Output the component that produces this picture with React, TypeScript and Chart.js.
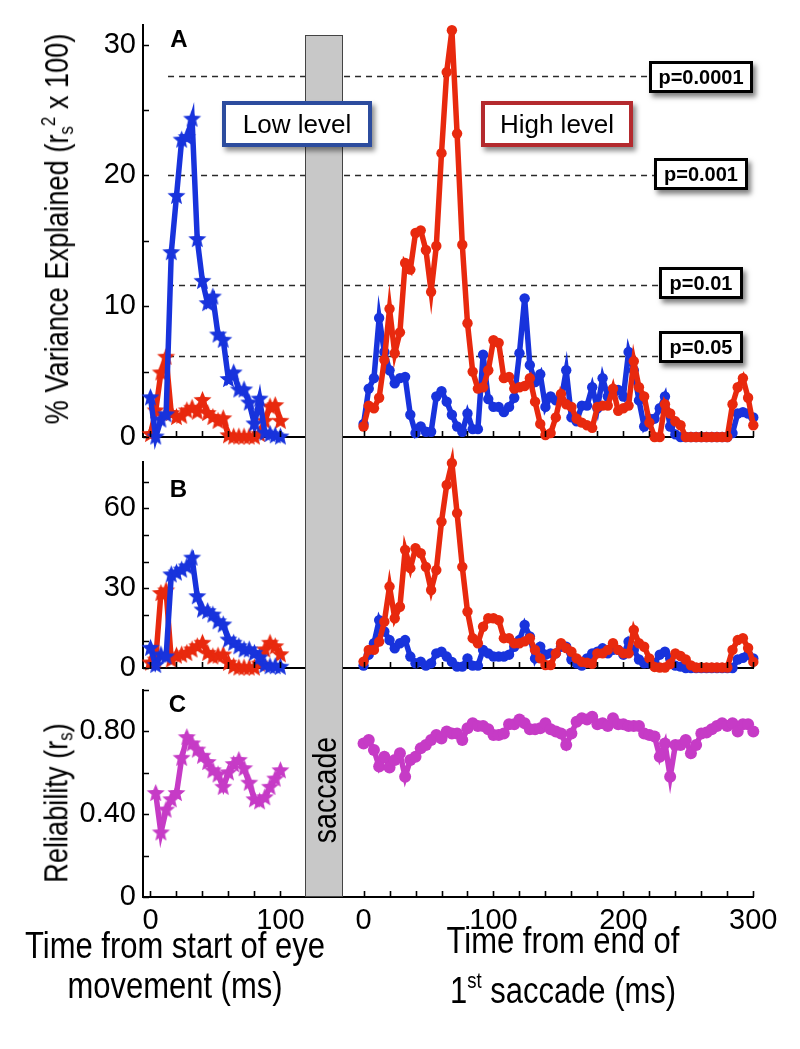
import { useEffect, useRef } from 'react';
import { Chart, registerables } from 'chart.js';
Chart.register(...registerables);

// ---------------- DATA ----------------
const LEFT_MS = [0, 4, 8, 12, 16, 20, 24, 28, 32, 36, 40, 44, 48, 52, 56, 60, 64, 68, 72, 76, 80, 84, 88, 92, 96, 100];
const RIGHT_MS = [0, 4, 8, 12, 16, 20, 24, 28, 32, 36, 40, 44, 48, 52, 56, 60, 64, 68, 72, 76, 80, 84, 88, 92, 96, 100,
  104, 108, 112, 116, 120, 124, 128, 132, 136, 140, 144, 148, 152, 156, 160, 164, 168, 172, 176, 180, 184, 188, 192, 196, 200,
  204, 208, 212, 216, 220, 224, 228, 232, 236, 240, 244, 248, 252, 256, 260, 264, 268, 272, 276, 280, 284, 288, 292, 296, 300];

// Panel A (% variance explained)
const A_LOW_LEFT = [3.0, 0.0, 1.3, 1.7, 14.1, 18.4, 22.7, 22.9, 24.3, 15.1, 11.9, 10.2, 10.7, 7.8, 7.4, 4.4, 4.9, 3.6, 3.6, 2.6, 1.0, 2.9, 0.3, 0.2, 0.1, 0.0];
const A_HIGH_LEFT = [0.2, 2.0, 4.9, 6.1, 1.8, 1.5, 1.6, 2.0, 2.2, 1.9, 2.8, 1.8, 1.5, 1.2, 1.4, 0.1, 0, 0, 0, 0, 0, 0.2, 1.2, 2.3, 2.4, 1.2];
const A_LOW_RIGHT = [1.0, 3.7, 4.5, 9.1, 6.5, 5.1, 4.1, 4.5, 4.6, 1.7, 0.3, 0.8, 0.4, 0.4, 3.1, 3.5, 2.7, 1.7, 0.8, 0.4,
  1.8, 0.6, 0.6, 6.3, 2.9, 2.3, 2.3, 1.9, 2.3, 3.0, 6.4, 10.6, 5.5, 4.2, 4.8, 2.3, 3.1, 2.8, 2.8, 5.1,
  1.5, 1.2, 2.4, 2.4, 3.8, 2.2, 4.5, 3.1, 3.3, 3.6, 3.1, 6.5, 5.1, 2.8, 0.8, 1.4, 1.4, 2.2, 3.1, 0.8,
  0.2, 0, 0, 0, 0, 0, 0, 0, 0, 0, 0, 0.3, 1.8, 1.9, 1.8, 1.5];
const A_HIGH_RIGHT = [0.8, 2.4, 2.2, 3.0, 5.9, 9.8, 6.4, 8.0, 13.3, 12.8, 15.6, 15.8, 14.3, 11.1, 14.6, 21.7, 27.9, 31.1, 23.2, 14.7,
  8.7, 5.0, 3.7, 3.8, 5.1, 7.4, 7.2, 4.5, 4.6, 3.7, 3.8, 3.9, 4.5, 2.7, 1.0, 0.15, 0.3, 1.5, 3.3, 2.5,
  2.3, 1.4, 1.1, 0.9, 0.7, 2.3, 2.4, 2.4, 3.7, 2.0, 2.2, 2.4, 5.8, 3.8, 3.1, 1.1, 0, 0, 2.5, 1.8,
  1.2, 0.9, 0, 0, 0, 0, 0, 0, 0, 0, 0, 2.5, 3.8, 4.5, 3.0, 0.9];

// Panel B
const B_LOW_LEFT = [7.4, 1.0, 4.9, 4.2, 35, 35.7, 36.8, 38, 41.3, 26.8, 21.8, 21.2, 19.9, 17.4, 16.2, 10.5, 9.3, 8.0, 6.8, 6.8, 5.5, 3.8, 1.0, 0.5, 0.5, 0.3];
const B_HIGH_LEFT = [1.9, 3.0, 28, 29, 3.0, 4.5, 4.9, 5.5, 6.8, 8.0, 9.3, 5.5, 4.2, 4.5, 4.9, 1.8, 0.5, 0, 0, 0, 0, 1.5, 6.8, 9.3, 8.0, 5.0];
const B_LOW_RIGHT = [0.9, 5.0, 9.3, 18, 13.7, 10.5, 7.4, 9.3, 10.5, 4.3, 1.8, 2.4, 0.9, 1.8, 5.5, 6.1, 4.3, 2.3, 0.5, 0.5,
  3.6, 0.9, 0.9, 6.8, 5.5, 4.3, 4.3, 4.3, 5.0, 8.0, 10.5, 16.2, 11.9, 3.6, 8.0, 5.0, 5.5, 5.5, 8.0, 8.0,
  3.2, 1.8, 0.9, 3.6, 5.5, 6.1, 7.4, 5.5, 6.8, 6.8, 5.0, 9.9, 6.8, 3.2, 1.8, 1.8, 1.8, 5.0, 6.1, 3.6,
  0.9, 0.5, 0, 0, 0, 0, 0, 0, 0, 0, 0, 0, 3.2, 3.8, 5.0, 3.6];
const B_HIGH_RIGHT = [2.4, 6.8, 6.8, 9.9, 17.4, 30.6, 18.7, 23, 44.4, 37.5, 45, 43.1, 38, 29.3, 36.8, 55, 68.8, 77, 58.2, 38,
  21.2, 11.2, 9.3, 15.5, 18.7, 18.7, 18, 11.2, 11.2, 9.3, 9.3, 10, 11.2, 6.8, 3.6, 1.1, 1.1, 5.5, 9.3, 7.5,
  6.1, 3.6, 2.3, 2.0, 1.6, 5.5, 5.5, 6.8, 9.3, 6.8, 5.5, 5.5, 14.3, 9.3, 8.0, 3.6, 0.4, 0.2, 0.2, 1.5,
  5.5, 4.5, 3.2, 1.0, 0.2, 0.2, 0.2, 0.2, 0.2, 0.2, 0.2, 6.8, 10.5, 11.2, 7.5, 2.3];

// Panel C (reliability)
const C_LEFT = [null, 0.50, 0.31, 0.42, 0.47, 0.50, 0.67, 0.77, 0.74, 0.71, 0.68, 0.65, 0.61, 0.59, 0.53, 0.60, 0.64, 0.66, 0.62, 0.55, 0.47, 0.46, 0.48, 0.53, 0.57, 0.61];
const C_RIGHT = [0.742, 0.758, 0.71, 0.63, 0.678, 0.626, 0.662, 0.694, 0.581, 0.662,
  0.678, 0.718, 0.734, 0.758, 0.783, 0.766, 0.799, 0.79, 0.79, 0.758,
  0.815, 0.839, 0.826, 0.826, 0.81, 0.783, 0.783, 0.79, 0.834, 0.834,
  0.858, 0.839, 0.81, 0.81, 0.815, 0.839, 0.81, 0.8, 0.79, 0.734,
  0.79, 0.847, 0.863, 0.858, 0.871, 0.834, 0.839, 0.826, 0.863, 0.834,
  0.834, 0.826, 0.826, 0.826, 0.79, 0.783, 0.775, 0.678, 0.742, 0.581,
  0.734, 0.734, 0.758, 0.694, 0.734, 0.79, 0.795, 0.81, 0.826, 0.839,
  0.826, 0.839, 0.8, 0.834, 0.834, 0.8];

// significance thresholds (panel A)
const P_LABELS = ['p=0.0001', 'p=0.001', 'p=0.01', 'p=0.05'];
const P_VALUES = [27.6, 20.0, 11.6, 6.2];
const P_LINE_START_MS = 13.5;            // on the left time axis
const P_LINE_END_MS = [219.7, 223.6, 227.4, 227.4]; // on the right time axis

// tick definitions
const X_TICKS_LEFT = [0, 20, 40, 60, 80, 100];
const X_TICKS_RIGHT = [0, 20, 40, 60, 80, 100, 120, 140, 160, 180, 200, 220, 240, 260, 280, 300];
const X_LABELS_LEFT = [0, 100];
const X_LABELS_RIGHT = [0, 100, 200, 300];
const Y_TICKS_A = [0, 5, 10, 15, 20, 25, 30];
const Y_LABELS_A = [0, 10, 20, 30];
const Y_TICKS_B = [0, 10, 20, 30, 40, 50, 60, 70];
const Y_LABELS_B = [0, 30, 60];
const Y_TICKS_C = [0, 0.2, 0.4, 0.6, 0.8, 1.0];
const Y_LABELS_C: [number, string][] = [[0, '0'], [0.4, '0.40'], [0.8, '0.80']];

// ---------------- STYLE / LAYOUT ----------------
const BLUE = '#1833dc';
const RED = '#e8290e';
const MAGENTA = '#c63bc6';
const SANS = '"Liberation Sans", Arial, Helvetica, sans-serif';
const RIGHT_OFFSET = 164;   // right time axis placed after the saccade gap
const X_MIN = -5.77;
const X_MAX = 464;
const AXIS_LEFT_PX = 143;
const AXIS_RIGHT_PX = 753.3;
const W = 800, H = 1049;

function makeStar(color: string, outer: number, inner: number) {
  const size = Math.ceil(outer * 2 + 2);
  const c = document.createElement('canvas');
  c.width = size; c.height = size;
  const ctx = c.getContext('2d')!;
  ctx.fillStyle = color;
  ctx.beginPath();
  for (let i = 0; i < 10; i++) {
    const r = i % 2 === 0 ? outer : inner;
    const a = -Math.PI / 2 + (i * Math.PI) / 5;
    const x = size / 2 + r * Math.cos(a);
    const y = size / 2 + r * Math.sin(a);
    if (i === 0) ctx.moveTo(x, y); else ctx.lineTo(x, y);
  }
  ctx.closePath();
  ctx.fill();
  return c;
}

function series(xs: number[], ys: (number | null)[], offset: number, color: string, pointStyle: any, radius: number, lw: number) {
  return {
    data: xs.map((x, i) => ({ x: x + offset, y: ys[i] })),
    borderColor: color,
    backgroundColor: color,
    borderWidth: lw,
    borderJoinStyle: 'miter' as const,
    pointStyle,
    pointRadius: radius,
    pointBorderWidth: 0,
    pointBackgroundColor: color,
    tension: 0,
    clip: false as const,
  };
}

const near = (a: number, b: number) => Math.abs(a - b) < 1e-6;

const axisDecor = {
  id: 'axisDecor',
  beforeDatasetsDraw(chart: any, _args: any, opts: any) {
    if (!opts.thresholds) return;
    const { ctx, scales: { x, y } } = chart;
    ctx.save();
    ctx.strokeStyle = '#2a2a2a';
    ctx.lineWidth = 1.5;
    ctx.setLineDash([6, 5]);
    opts.thresholds.forEach((v: number, i: number) => {
      const py = Math.round(y.getPixelForValue(v)) + 0.5;
      ctx.beginPath();
      ctx.moveTo(x.getPixelForValue(P_LINE_START_MS), py);
      ctx.lineTo(x.getPixelForValue(P_LINE_END_MS[i] + RIGHT_OFFSET), py);
      ctx.stroke();
    });
    ctx.restore();
  },
  afterDraw(chart: any) {
    const { ctx, chartArea, scales: { x, y } } = chart;
    ctx.save();
    ctx.strokeStyle = '#000';
    ctx.lineWidth = 1.6;
    ctx.beginPath();
    x.ticks.forEach((t: any) => {
      const px = Math.round(x.getPixelForValue(t.value)) + 0.5;
      ctx.moveTo(px, chartArea.bottom);
      ctx.lineTo(px, chartArea.bottom - 6);
    });
    y.ticks.forEach((t: any) => {
      const py = Math.round(y.getPixelForValue(t.value)) + 0.5;
      ctx.moveTo(chartArea.left, py);
      ctx.lineTo(chartArea.left + 6, py);
    });
    ctx.stroke();
    ctx.restore();
  },
};

interface PanelCfg {
  top: number; bottom: number; xh: number; ymax: number;
  yTicks: number[]; yLabel: (v: number) => string; showX: boolean;
  datasets: any[]; thresholds?: number[];
}

function makeChart(canvas: HTMLCanvasElement, cfg: PanelCfg) {
  const xTicks = [...X_TICKS_LEFT, ...X_TICKS_RIGHT.map(v => v + RIGHT_OFFSET)];
  return new Chart(canvas, {
    type: 'line',
    data: { datasets: cfg.datasets },
    plugins: [axisDecor],
    options: {
      responsive: false,
      animation: false,
      devicePixelRatio: 1,
      events: [],
      layout: { padding: { left: 0, right: W - AXIS_RIGHT_PX, top: cfg.top, bottom: H - cfg.bottom - cfg.xh } },
      plugins: {
        legend: { display: false },
        tooltip: { enabled: false },
        // @ts-ignore
        axisDecor: { thresholds: cfg.thresholds },
      },
      scales: {
        x: {
          type: 'linear', min: X_MIN, max: X_MAX,
          grid: { display: false, drawTicks: false },
          border: { display: true, color: '#000', width: 2 },
          afterBuildTicks: (s: any) => { s.ticks = xTicks.map(v => ({ value: v })); },
          afterFit: (s: any) => { s.height = cfg.xh; },
          ticks: {
            display: cfg.showX, autoSkip: false, maxRotation: 0, padding: 7, color: '#000',
            font: { family: SANS, size: 29 },
            callback: (v: any) => {
              const n = Number(v);
              if (n < RIGHT_OFFSET - 20) return X_LABELS_LEFT.some(l => near(l, n)) ? String(n) : '';
              const ms = Math.round(n - RIGHT_OFFSET);
              return X_LABELS_RIGHT.includes(ms) ? String(ms) : '';
            },
          },
        },
        y: {
          type: 'linear', min: 0, max: cfg.ymax,
          grid: { display: false, drawTicks: false },
          border: { display: true, color: '#000', width: 2 },
          afterBuildTicks: (s: any) => { s.ticks = cfg.yTicks.map(v => ({ value: v })); },
          afterFit: (s: any) => { s.width = AXIS_LEFT_PX; },
          ticks: {
            autoSkip: false, padding: 7, color: '#000',
            font: { family: SANS, size: 29 },
            callback: (v: any) => cfg.yLabel(Number(v)),
          },
        },
      },
    } as any,
  });
}

const abs = (l: number, t: number, extra: any = {}) => ({ position: 'absolute' as const, left: l, top: t, ...extra });

function PBox({ label, l, t, w }: { label: string; l: number; t: number; w: number }) {
  return (
    <div style={abs(l, t, {
      width: w, height: 32, boxSizing: 'border-box', border: '3px solid #000', background: '#fff',
      boxShadow: '3px 4px 5px rgba(0,0,0,0.5)', display: 'flex', alignItems: 'center', justifyContent: 'center',
      font: `bold 20px ${SANS}`, color: '#000',
    })}>{label}</div>
  );
}

export default function App() {
  const refA = useRef<HTMLCanvasElement>(null);
  const refB = useRef<HTMLCanvasElement>(null);
  const refC = useRef<HTMLCanvasElement>(null);

  useEffect(() => {
    const starBlue = makeStar(BLUE, 9.5, 4.2);
    const starRed = makeStar(RED, 9.5, 4.2);
    const starMag = makeStar(MAGENTA, 9.5, 4.2);
    const charts = [
      makeChart(refA.current!, {
        top: 25, bottom: 437, xh: 10, ymax: 31.5, yTicks: Y_TICKS_A, showX: false,
        yLabel: v => (Y_LABELS_A.some(l => near(l, v)) ? String(v) : ''),
        thresholds: P_VALUES,
        datasets: [
          series(LEFT_MS, A_LOW_LEFT, 0, BLUE, starBlue, 7, 5.5),
          series(LEFT_MS, A_HIGH_LEFT, 0, RED, starRed, 7, 5.5),
          series(RIGHT_MS, A_HIGH_RIGHT, RIGHT_OFFSET, RED, 'circle', 5.2, 5.5),
          series(RIGHT_MS, A_LOW_RIGHT, RIGHT_OFFSET, BLUE, 'circle', 5.2, 5.5),
        ],
      }),
      makeChart(refB.current!, {
        top: 462, bottom: 668, xh: 10, ymax: 77.4, yTicks: Y_TICKS_B, showX: false,
        yLabel: v => (Y_LABELS_B.some(l => near(l, v)) ? String(v) : ''),
        datasets: [
          series(LEFT_MS, B_LOW_LEFT, 0, BLUE, starBlue, 7, 5.5),
          series(LEFT_MS, B_HIGH_LEFT, 0, RED, starRed, 7, 5.5),
          series(RIGHT_MS, B_HIGH_RIGHT, RIGHT_OFFSET, RED, 'circle', 5.2, 5.5),
          series(RIGHT_MS, B_LOW_RIGHT, RIGHT_OFFSET, BLUE, 'circle', 5.2, 5.5),
        ],
      }),
      makeChart(refC.current!, {
        top: 690, bottom: 897, xh: 60, ymax: 1.0, yTicks: Y_TICKS_C, showX: true,
        yLabel: v => { const f = Y_LABELS_C.find(([n]) => near(n, v)); return f ? f[1] : ''; },
        datasets: [
          series(LEFT_MS, C_LEFT, 0, MAGENTA, starMag, 7, 5.5),
          series(RIGHT_MS, C_RIGHT, RIGHT_OFFSET, MAGENTA, 'circle', 6, 5.5),
        ],
      }),
    ];
    return () => charts.forEach(c => c.destroy());
  }, []);

  const cv = { position: 'absolute' as const, left: 0, top: 0 };
  const rot = (cx: number, cy: number, size: number, sx: number) => abs(cx, cy, {
    transform: `translate(-50%, -50%) rotate(-90deg) scaleX(${sx})`, whiteSpace: 'nowrap', font: `${size}px ${SANS}`, color: '#000',
  });
  const small = { fontSize: '0.62em' };
  const title = (cx: number, cy: number) => abs(cx, cy, {
    transform: 'translate(-50%, -50%) scaleX(0.86)', textAlign: 'center', whiteSpace: 'nowrap', font: `36px/40px ${SANS}`, color: '#000',
  });

  return (
    <div style={{ position: 'absolute', left: 0, top: 0, width: W, height: H, background: '#fff', overflow: 'hidden' }}>
      <canvas ref={refA} width={W} height={H} style={cv} />
      <canvas ref={refB} width={W} height={H} style={cv} />
      <canvas ref={refC} width={W} height={H} style={cv} />

      {/* saccade bar */}
      <div style={abs(305, 35, { width: 38, height: 862, boxSizing: 'border-box', background: '#c8c8c8', border: '1px solid #444' })} />
      <div style={rot(324, 790, 34, 0.84)}>saccade</div>

      {/* panel letters */}
      <div style={abs(179, 39, { transform: 'translate(-50%,-50%)', font: `bold 24px ${SANS}` })}>A</div>
      <div style={abs(178.5, 489, { transform: 'translate(-50%,-50%)', font: `bold 24px ${SANS}` })}>B</div>
      <div style={abs(177.5, 704, { transform: 'translate(-50%,-50%)', font: `bold 24px ${SANS}` })}>C</div>

      {/* legend-like boxes */}
      <div style={abs(222, 101, {
        width: 150, height: 46, boxSizing: 'border-box', border: '4px solid #2c4c9e', background: '#fff',
        boxShadow: '3px 4px 5px rgba(0,0,0,0.45)', display: 'flex', alignItems: 'center', justifyContent: 'center',
        font: `26px ${SANS}`,
      })}>Low level</div>
      <div style={abs(481, 101, {
        width: 152, height: 46, boxSizing: 'border-box', border: '4px solid #b42a2e', background: '#fff',
        boxShadow: '3px 4px 5px rgba(0,0,0,0.45)', display: 'flex', alignItems: 'center', justifyContent: 'center',
        font: `26px ${SANS}`,
      })}>High level</div>

      <PBox label={P_LABELS[0]} l={649} t={61} w={104} />
      <PBox label={P_LABELS[1]} l={654} t={158} w={94} />
      <PBox label={P_LABELS[2]} l={659} t={267} w={84} />
      <PBox label={P_LABELS[3]} l={659} t={331} w={84} />

      {/* y titles */}
      <div style={rot(57, 229, 34, 0.8)}>% Variance Explained (r<span style={{ ...small, verticalAlign: '-0.25em' }}>s</span><span style={{ ...small, verticalAlign: '0.6em' }}>2</span> x 100)</div>
      <div style={rot(57, 803, 34, 0.8)}>Reliability (r<span style={{ ...small, verticalAlign: '-0.25em' }}>s</span>)</div>

      {/* x titles */}
      <div style={title(175, 966)}>
        Time from start of eye<br />movement (ms)
      </div>
      <div style={title(563, 966)}>
        Time from end of<br />1<span style={{ fontSize: '0.6em', verticalAlign: '0.7em' }}>st</span> saccade (ms)
      </div>
    </div>
  );
}
